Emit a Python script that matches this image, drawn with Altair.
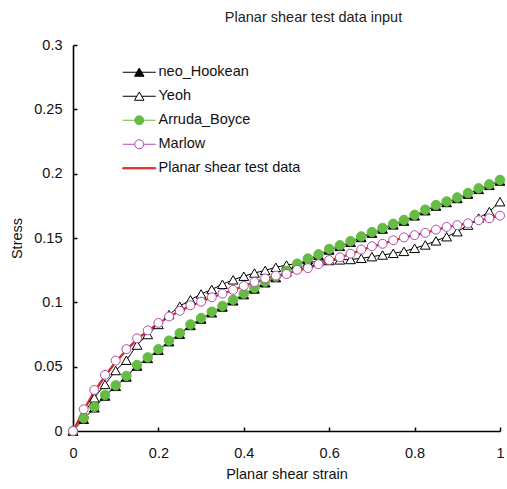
import altair as alt
import pandas as pd

NEO = "neo_Hookean"
YEOH = "Yeoh"
AB = "Arruda_Boyce"
MARLOW = "Marlow"
TEST = "Planar shear test data"

strain = [0.0, 0.025, 0.05, 0.075, 0.1, 0.125, 0.15, 0.175, 0.2, 0.225,
          0.25, 0.275, 0.3, 0.325, 0.35, 0.375, 0.4, 0.425, 0.45, 0.475,
          0.5, 0.525, 0.55, 0.575, 0.6, 0.625, 0.65, 0.675, 0.7, 0.725,
          0.75, 0.775, 0.8, 0.825, 0.85, 0.875, 0.9, 0.925, 0.95, 0.975, 1.0]

neo_hookean = [0.0, 0.0092, 0.0180, 0.0272, 0.0347, 0.0420, 0.0505, 0.0564, 0.0627, 0.0694,
               0.0752, 0.0820, 0.0870, 0.0919, 0.0964, 0.1012, 0.1060, 0.1104, 0.1152, 0.1192,
               0.1237, 0.1292, 0.1332, 0.1365, 0.1407, 0.1435, 0.1467, 0.1504, 0.1538, 0.1570,
               0.1602, 0.1632, 0.1672, 0.1712, 0.1748, 0.1776, 0.1807, 0.1841, 0.1878, 0.1909, 0.1943]

yeoh = [0.0, 0.0135, 0.0258, 0.0362, 0.0470, 0.0550, 0.0668, 0.0750, 0.0828, 0.0905,
        0.0970, 0.1020, 0.1065, 0.1100, 0.1140, 0.1175, 0.1203, 0.1228, 0.1248, 0.1272,
        0.1290, 0.1300, 0.1310, 0.1320, 0.1325, 0.1330, 0.1333, 0.1342, 0.1355, 0.1368,
        0.1381, 0.1396, 0.1420, 0.1446, 0.1478, 0.1510, 0.1549, 0.1600, 0.1655, 0.1705, 0.1782]

arruda_boyce = [0.0, 0.0099, 0.0187, 0.0280, 0.0355, 0.0428, 0.0513, 0.0572, 0.0635, 0.0702,
                0.0760, 0.0828, 0.0878, 0.0927, 0.0972, 0.1020, 0.1068, 0.1112, 0.1160, 0.1200,
                0.1245, 0.1300, 0.1340, 0.1373, 0.1415, 0.1443, 0.1475, 0.1512, 0.1546, 0.1578,
                0.1610, 0.1640, 0.1680, 0.1720, 0.1756, 0.1784, 0.1815, 0.1849, 0.1886, 0.1917, 0.1951]

marlow = [0.0, 0.0169, 0.0319, 0.0436, 0.0547, 0.0636, 0.0720, 0.0782, 0.0840, 0.0890,
          0.0934, 0.0977, 0.1005, 0.1039, 0.1068, 0.1097, 0.1128, 0.1158, 0.1186, 0.1208,
          0.1220, 0.1252, 0.1266, 0.1297, 0.1329, 0.1350, 0.1378, 0.1410, 0.1436, 0.1455,
          0.1482, 0.1505, 0.1522, 0.1540, 0.1565, 0.1586, 0.1600, 0.1614, 0.1638, 0.1653, 0.1674]

test_data = [0.0, 0.0160, 0.0305, 0.0425, 0.0535, 0.0628, 0.0712, 0.0778, 0.0836, 0.0887,
             0.0932, 0.0972, 0.1004, 0.1037, 0.1067, 0.1096, 0.1126, 0.1155, 0.1182, 0.1205,
             0.1222, 0.1248, 0.1266, 0.1294, 0.1325, 0.1348, 0.1376, 0.1406, 0.1432, 0.1454,
             0.1480, 0.1503, 0.1522, 0.1540, 0.1563, 0.1584, 0.1599, 0.1614, 0.1636, 0.1652, 0.1672]

x_ticks = [0, 0.2, 0.4, 0.6, 0.8, 1.0]
y_ticks = [0, 0.05, 0.1, 0.15, 0.2, 0.25, 0.3]

series_order = [NEO, YEOH, AB, MARLOW, TEST]
stroke_range = ["#000000", "#000000", "#66bb44", "#ac4cb0", "#e82222"]
fill_range = ["#000000", "#ffffff", "#66bb44", "#ffffff", "#e82222"]
legend_shapes = [
    "M-3.3,0 L3.3,0 M0,-0.85 L0.95,0.8 L-0.95,0.8 Z",
    "M-3.3,0 L-0.5,0 M0.5,0 L3.3,0 M0,-0.85 L0.95,0.8 L-0.95,0.8 Z",
    "M-3.3,0 L3.3,0 M-0.9,0 A0.9,0.9 0 1,0 0.9,0 A0.9,0.9 0 1,0 -0.9,0 Z",
    "M-3.3,0 L-0.9,0 M0.9,0 L3.3,0 M-0.9,0 A0.9,0.9 0 1,0 0.9,0 A0.9,0.9 0 1,0 -0.9,0 Z",
    "M-3.3,-0.12 L3.3,-0.12 L3.3,0.12 L-3.3,0.12 Z",
]

rows = []
for name, vals in [(NEO, neo_hookean), (YEOH, yeoh), (AB, arruda_boyce), (MARLOW, marlow), (TEST, test_data)]:
    for s, v in zip(strain, vals):
        rows.append({"strain": s, "stress": v, "series": name})
df = pd.DataFrame(rows)

FONT = "Liberation Sans"
FS = 14.5

x_scale = alt.Scale(domain=[0, 1], nice=False)
y_scale = alt.Scale(domain=[0, 0.3], nice=False)

# main axes: domain + labels + titles, no ticks
x_main = alt.X("strain:Q", scale=x_scale,
               axis=alt.Axis(values=x_ticks, format="~g", title="Planar shear strain", orient="bottom",
                             ticks=False, labelPadding=15, titlePadding=8, labelFlush=False))
y_main = alt.Y("stress:Q", scale=y_scale,
               axis=alt.Axis(values=y_ticks, format="~g", title="Stress", orient="left",
                             ticks=False, labelPadding=11, titlePadding=9, labelFlush=False))
# inward tick axes
x_tick = alt.X("strain:Q", scale=x_scale,
               axis=alt.Axis(values=x_ticks, orient="bottom", offset=-4, domain=False, labels=False,
                             ticks=True, tickSize=4, title=None))
y_tick = alt.Y("stress:Q", scale=y_scale,
               axis=alt.Axis(values=y_ticks, orient="left", offset=-4, domain=False, labels=False,
                             ticks=True, tickSize=4, title=None))
x_plain = alt.X("strain:Q", scale=x_scale, axis=None)
y_plain = alt.Y("stress:Q", scale=y_scale, axis=None)

leg = alt.Legend(orient="none", legendX=59, legendY=20, title=None, symbolSize=100,
                 symbolStrokeWidth=1, labelFont=FONT, labelFontSize=FS, labelColor="#111111",
                 labelOffset=12, rowPadding=9, padding=0, symbolOpacity=1)

stroke_enc = alt.Stroke("series:N", scale=alt.Scale(domain=series_order, range=stroke_range), legend=leg)
fill_enc = alt.Fill("series:N", scale=alt.Scale(domain=series_order, range=fill_range), legend=leg)
shape_enc = alt.Shape("series:N", scale=alt.Scale(domain=series_order, range=legend_shapes), legend=leg)

base = alt.Chart(df)

model_lines = base.transform_filter(alt.datum.series != TEST).mark_line(strokeWidth=1).encode(
    x=x_main, y=y_main, stroke=stroke_enc)
test_line = base.transform_filter(alt.datum.series == TEST).mark_line(strokeWidth=2.2).encode(
    x=x_tick, y=y_tick, stroke=stroke_enc)


def pts(name, shape, size):
    return base.transform_filter(alt.datum.series == name).mark_point(
        shape=shape, size=size, filled=True, strokeWidth=1, opacity=1).encode(
        x=x_plain, y=y_plain, stroke=stroke_enc, fill=fill_enc)


legend_layer = base.transform_filter("false").mark_point(filled=True, opacity=1, strokeWidth=1).encode(
    x=x_plain, y=y_plain, stroke=stroke_enc, fill=fill_enc, shape=shape_enc)

chart = alt.layer(
    model_lines, test_line,
    pts(NEO, "triangle-up", 95), pts(YEOH, "triangle-up", 95),
    pts(AB, "circle", 90), pts(MARLOW, "circle", 80),
    legend_layer,
).resolve_axis(x="independent", y="independent").properties(
    width=427, height=386, background="white",
    title=alt.TitleParams("Planar shear test data input", font=FONT, fontSize=FS, fontWeight="normal",
                          color="#222222", anchor="middle", frame="group", dx=27, offset=12),
    autosize=alt.AutoSizeParams(type="none"),
    padding={"left": 73, "top": 45, "right": 7, "bottom": 58},
).configure_view(stroke=None).configure_axis(
    grid=False, domainColor="#000000", domainWidth=1.6, tickColor="#000000", tickWidth=1.5,
    labelFont=FONT, labelFontSize=FS, labelColor="#111111",
    titleFont=FONT, titleFontSize=FS, titleFontWeight="normal", titleColor="#111111",
)

chart.save("out.html", embed_options={"renderer": "svg", "actions": False})
